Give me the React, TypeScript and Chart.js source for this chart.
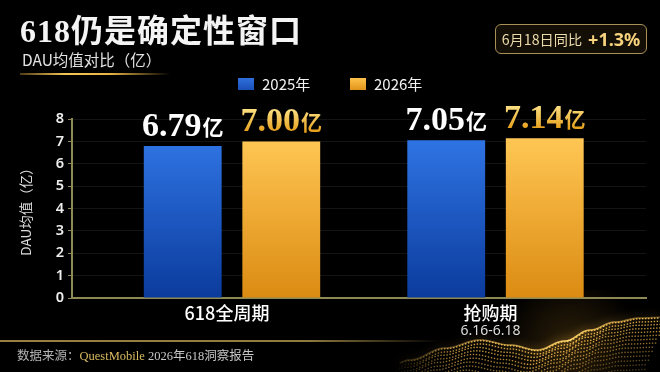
import React, { useEffect, useRef } from 'react';
import { Chart, registerables } from 'chart.js';

Chart.register(...registerables);

const categories = ['618全周期', '抢购期'];
const categorySubLabels = ['', '6.16-6.18'];
const seriesLabels = ['2025年', '2026年'];
const dau2025 = [6.79, 7.05];
const dau2026 = [7.0, 7.14];
const yTickMin = 0;
const yTickMax = 8;
const yTickStep = 1;
const valueUnit = '亿';

const AXIS = '#8d8a56';
const SANS = '"Noto Sans", "Noto Sans CJK SC", sans-serif';
const CJK = '"Noto Sans CJK SC", "Noto Sans", sans-serif';
const SERIF = '"Liberation Serif", "DejaVu Serif", "Noto Sans CJK SC", serif';

// decorative wave outline (background ornament, not data)
const waveCrest: [number, number][] = [
  [380, 372], [410, 360], [445, 348], [480, 340], [510, 345], [537, 350],
  [565, 341], [590, 330], [615, 322], [640, 318], [670, 317],
];

function crestY(x: number) {
  for (let k = 0; k < waveCrest.length - 1; k++) {
    const [x0, y0] = waveCrest[k];
    const [x1, y1] = waveCrest[k + 1];
    if (x >= x0 && x <= x1) {
      const t = (x - x0) / (x1 - x0);
      const s = (1 - Math.cos(Math.PI * t)) / 2;
      return y0 + (y1 - y0) * s;
    }
  }
  return 372;
}

const wavePlugin = {
  id: 'wave',
  beforeDraw(chart: any) {
    const ctx = chart.ctx as CanvasRenderingContext2D;
    ctx.save();
    const rg = ctx.createRadialGradient(570, 345, 2, 570, 345, 70);
    rg.addColorStop(0, 'rgba(200,140,40,0.22)');
    rg.addColorStop(1, 'rgba(200,140,40,0)');
    ctx.fillStyle = rg;
    ctx.fillRect(480, 290, 180, 82);
    for (let j = 0; j < 18; j++) {
      for (let x = 390; x <= 666; x += 3) {
        const xx = x - j * 1.8 + (j % 2) * 1.5;
        const y = crestY(x) + j * 3.2 + j * j * 0.06;
        if (y > 373 || xx < 380) continue;
        const fadeIn = Math.min(1, Math.max(0, (x - 395) / 70));
        const ridge = x > 530 && x < 605 ? 1.2 : 1;
        const a = Math.min(1, Math.max(0.08, 0.95 - j * 0.05) * fadeIn * ridge);
        ctx.fillStyle = `rgba(236, 182, 76, ${a.toFixed(3)})`;
        ctx.fillRect(xx, y, 1.4, 1.4);
      }
    }
    ctx.beginPath();
    for (let x = 400; x <= 660; x += 2) {
      const y = crestY(x);
      if (x === 400) ctx.moveTo(x, y);
      else ctx.lineTo(x, y);
    }
    const g = ctx.createLinearGradient(400, 0, 660, 0);
    g.addColorStop(0, 'rgba(255,200,90,0.15)');
    g.addColorStop(0.5, 'rgba(255,205,95,0.7)');
    g.addColorStop(0.65, 'rgba(255,215,110,1)');
    g.addColorStop(0.85, 'rgba(255,200,90,0.55)');
    g.addColorStop(1, 'rgba(255,200,90,0.35)');
    ctx.strokeStyle = g;
    ctx.lineWidth = 1.6;
    ctx.shadowColor = 'rgba(255,190,70,0.95)';
    ctx.shadowBlur = 8;
    ctx.stroke();
    ctx.restore();
  },
};

const dataLabelPlugin = {
  id: 'dataLabels',
  afterDatasetsDraw(chart: any) {
    const ctx = chart.ctx as CanvasRenderingContext2D;
    chart.data.datasets.forEach((ds: any, di: number) => {
      const meta = chart.getDatasetMeta(di);
      meta.data.forEach((bar: any, i: number) => {
        const v = ds.data[i].y as number;
        const num = v.toFixed(2);
        ctx.save();
        const numFont = `bold 34px ${SERIF}`;
        const unitFont = `bold 21px ${CJK}`;
        ctx.font = numFont;
        const w1 = ctx.measureText(num).width;
        ctx.font = unitFont;
        const w2 = ctx.measureText(valueUnit).width;
        const total = w1 + w2 + 1;
        const x0 = bar.x - total / 2;
        const yb = bar.y - 10;
        if (di === 0) {
          ctx.fillStyle = '#ffffff';
        } else {
          const g = ctx.createLinearGradient(0, yb - 25, 0, yb);
          g.addColorStop(0, '#ffe890');
          g.addColorStop(1, '#e6a01c');
          ctx.fillStyle = g;
        }
        ctx.shadowColor = 'rgba(0,0,0,0.6)';
        ctx.shadowBlur = 3;
        ctx.textAlign = 'left';
        ctx.textBaseline = 'alphabetic';
        ctx.font = numFont;
        ctx.fillText(num, x0, yb);
        ctx.font = unitFont;
        ctx.fillText(valueUnit, x0 + w1 + 1, yb - 1);
        ctx.restore();
      });
    });
  },
};

const subLabelPlugin = {
  id: 'subLabels',
  afterDraw(chart: any) {
    const ctx = chart.ctx as CanvasRenderingContext2D;
    const xs = chart.scales.x;
    ctx.save();
    ctx.font = `14px ${SANS}`;
    ctx.fillStyle = '#dcdcdc';
    ctx.textAlign = 'center';
    ctx.textBaseline = 'middle';
    categorySubLabels.forEach((t, i) => {
      if (!t) return;
      ctx.fillText(t, xs.getPixelForValue(i) - 5, 331);
    });
    ctx.restore();
  },
};

function barGradient(chart: any, top: string, bottom: string) {
  const { ctx, chartArea } = chart;
  if (!chartArea) return top;
  const g = ctx.createLinearGradient(0, chartArea.top + 20, 0, chartArea.bottom);
  g.addColorStop(0, top);
  g.addColorStop(1, bottom);
  return g;
}

export default function App() {
  const ref = useRef<HTMLCanvasElement>(null);
  useEffect(() => {
    Chart.defaults.font.family = SANS;
    const chart = new Chart(ref.current as HTMLCanvasElement, {
      type: 'bar',
      data: {
        datasets: [
          {
            label: seriesLabels[0],
            data: categories.map((_, i) => ({ x: i, y: dau2025[i] })),
            backgroundColor: (c: any) => barGradient(c.chart, '#2f74e4', '#0b3b9c'),
          },
          {
            label: seriesLabels[1],
            data: categories.map((_, i) => ({ x: i, y: dau2026[i] })),
            backgroundColor: (c: any) => barGradient(c.chart, '#ffc653', '#db8b12'),
          },
        ],
      },
      options: {
        responsive: false,
        animation: false,
        devicePixelRatio: 1,
        layout: { padding: { left: 18, right: 14, top: 119, bottom: 24 } },
        plugins: { legend: { display: false }, tooltip: { enabled: false } },
        datasets: { bar: { categoryPercentage: 0.748, barPercentage: 0.79 } },
        scales: {
          x: {
            type: 'linear',
            offset: false,
            min: -0.6072,
            max: 1.5712,
            grid: { display: false, offset: false, drawTicks: false },
            border: { display: true, color: AXIS, width: 2 },
            afterBuildTicks: (s: any) => {
              s.ticks = categories.map((_, i) => ({ value: i }));
            },
            afterFit: (s: any) => {
              s.height = 50;
            },
            ticks: {
              callback: (v: any) => categories[v] ?? '',
              color: '#ffffff',
              font: { size: 18, weight: '500', family: CJK },
              padding: 4,
              autoSkip: false,
              maxRotation: 0,
              labelOffset: -5,
            },
          },
          y: {
            min: yTickMin,
            max: yTickMax,
            ticks: {
              stepSize: yTickStep,
              color: '#eeeeee',
              font: { size: 14.5, weight: '600' },
              padding: 4,
            },
            grid: {
              color: (c: any) => (c.tick && c.tick.value === 0 ? 'rgba(0,0,0,0)' : 'rgba(255,255,255,0.08)'),
              drawTicks: true,
              tickLength: 4,
              tickColor: AXIS,
              tickWidth: 1,
            },
            border: { color: AXIS, width: 2 },
            title: {
              display: true,
              text: 'DAU均值（亿）',
              color: '#dddddd',
              font: { size: 13.5, family: CJK },
              padding: 0,
            },
            afterFit: (s: any) => {
              s.width = 54;
            },
          },
        },
      },
      plugins: [wavePlugin, dataLabelPlugin, subLabelPlugin],
    } as any);
    return () => chart.destroy();
  }, []);

  return (
    <div
      style={{
        position: 'fixed',
        left: 0,
        top: 0,
        width: 660,
        height: 372,
        background: '#000',
        overflow: 'hidden',
        fontFamily: SANS,
      }}
    >
      <canvas
        ref={ref}
        width={660}
        height={372}
        style={{ position: 'absolute', left: 0, top: 0, width: 660, height: 372 }}
      />
      <div
        style={{
          position: 'absolute',
          left: 20,
          top: 15,
          fontFamily: SERIF,
          fontWeight: 700,
          fontSize: 32,
          lineHeight: '32px',
          letterSpacing: 1,
          color: '#f4f4f4',
          whiteSpace: 'nowrap',
        }}
      >
        618仍是确定性窗口
      </div>
      <div
        style={{
          position: 'absolute',
          left: 22,
          top: 51,
          fontFamily: CJK,
          fontSize: 15.5,
          lineHeight: '16px',
          color: '#e2e2e2',
          whiteSpace: 'nowrap',
        }}
      >
        DAU均值对比（亿）
      </div>
      <div
        style={{
          position: 'absolute',
          left: 20,
          top: 73,
          width: 150,
          height: 2,
          background:
            'linear-gradient(90deg, rgba(200,150,50,0.4), #f3c657 30%, #e9b445 60%, rgba(200,150,50,0))',
        }}
      />
      <div
        style={{
          position: 'absolute',
          left: 495,
          top: 24,
          width: 152,
          height: 30,
          boxSizing: 'border-box',
          border: '1.5px solid #a88f55',
          borderRadius: 6,
          background: 'rgba(28,22,8,0.7)',
          display: 'flex',
          alignItems: 'center',
          justifyContent: 'center',
          whiteSpace: 'nowrap',
        }}
      >
        <span style={{ fontFamily: CJK, fontSize: 14.2, color: '#eadbab' }}>6月18日同比</span>
        <span
          style={{ fontFamily: SANS, fontSize: 18, fontWeight: 700, color: '#f6d37c', marginLeft: 6 }}
        >
          +1.3%
        </span>
      </div>
      <div style={{ position: 'absolute', left: 238, top: 77, display: 'flex', alignItems: 'center', whiteSpace: 'nowrap' }}>
        <span
          style={{
            display: 'inline-block',
            width: 16,
            height: 12,
            background: 'linear-gradient(180deg, #2f70dc, #1a4fb8)',
          }}
        />
        <span style={{ fontFamily: CJK, fontSize: 15, lineHeight: '14px', color: '#f2f2f2', marginLeft: 8 }}>
          {seriesLabels[0]}
        </span>
      </div>
      <div style={{ position: 'absolute', left: 350, top: 77, display: 'flex', alignItems: 'center', whiteSpace: 'nowrap' }}>
        <span
          style={{
            display: 'inline-block',
            width: 16,
            height: 12,
            background: 'linear-gradient(180deg, #ffc24c, #e09418)',
          }}
        />
        <span style={{ fontFamily: CJK, fontSize: 15, lineHeight: '14px', color: '#f2f2f2', marginLeft: 8 }}>
          {seriesLabels[1]}
        </span>
      </div>
      <div
        style={{
          position: 'absolute',
          left: 0,
          top: 340,
          width: 440,
          height: 1.5,
          background: 'linear-gradient(90deg, #9a8040, #8f7a3e 70%, rgba(140,115,55,0))',
        }}
      />
      <div
        style={{
          position: 'absolute',
          left: 17,
          top: 347,
          fontSize: 12.5,
          lineHeight: '16px',
          whiteSpace: 'nowrap',
        }}
      >
        <span style={{ fontFamily: CJK, color: '#b4b4b4' }}>数据来源：</span>
        <span style={{ fontFamily: SERIF, color: '#d9bb62' }}>QuestMobile</span>
        <span style={{ fontFamily: SERIF, color: '#c8c8c8' }}> 2026年618洞察报告</span>
      </div>
    </div>
  );
}
